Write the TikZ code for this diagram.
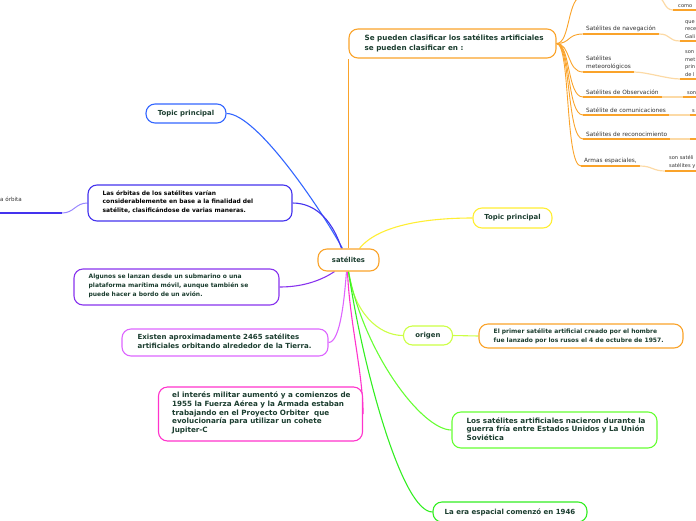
\documentclass[tikz,border=0pt]{standalone}
\usepackage{fontspec}
\setmainfont{DejaVu Sans}
\usetikzlibrary{backgrounds}
\definecolor{ora}{HTML}{FAA32A}
\definecolor{pale}{HTML}{FCDAA6}
\definecolor{txt}{HTML}{1B3D2F}
\definecolor{subtxt}{HTML}{333333}
\definecolor{blu}{HTML}{3366FF}
\definecolor{bpur}{HTML}{4433EE}
\definecolor{bpurl}{HTML}{9988FF}
\definecolor{pur}{HTML}{8833EE}
\definecolor{vio}{HTML}{DD66FF}
\definecolor{pnk}{HTML}{FF33CC}
\definecolor{yel}{HTML}{FFEE33}
\definecolor{lime}{HTML}{CCFF44}
\definecolor{grn}{HTML}{66FF33}
\definecolor{grnb}{HTML}{33EE22}
\begin{document}
\begin{tikzpicture}[x=1pt,y=-1pt,
  box/.style={draw, rounded corners=9pt, line width=1.1pt, fill=white, text=txt, inner sep=0pt,
    font=\bfseries\fontsize{6.9}{8}\selectfont},
  tx/.style={text=txt, align=left, inner sep=0pt, anchor=west},
  sub/.style={text=subtxt, align=left, anchor=south west, inner xsep=3pt, inner ysep=2pt,
    font=\fontsize{5.8}{7.8}\selectfont},
  subtwo/.style={sub, font=\fontsize{5.1}{7.8}\selectfont},
  con/.style={line width=1.1pt},
  uline/.style={ora, line width=1.6pt},
  oline/.style={ora, line width=0.9pt},
  pline/.style={pale, line width=1.2pt}]
\useasboundingbox (0,0) rectangle (696,520);
\clip (0,0) rectangle (696,520);

% central
\node[box, draw=ora, minimum width=61, minimum height=22, font=\bfseries\fontsize{6.8}{8}\selectfont] (cen) at (348.5,260) {satélites};

% orange main topic
\node[box, draw=ora, minimum width=207, minimum height=29] (clas) at (452.5,43.5) {};
\node[tx, font=\bfseries\fontsize{7.2}{10}\selectfont] (clasT) at ([xshift=16]clas.west) {Se pueden clasificar los satélites artificiales\\se pueden clasificar en :};

% topics
\node[box, draw=yel, minimum width=79, minimum height=20] (yelT) at (512.5,218) {Topic principal};
\node[box, draw=blu, minimum width=80, minimum height=19] (bluT) at (186,113.5) {Topic principal};

\node[box, draw=bpur, minimum width=204, minimum height=36] (orb) at (190,203) {};
\node[tx, text=black, font=\bfseries\fontsize{5.95}{8.5}\selectfont] (orbT) at ([xshift=15,yshift=1]orb.west) {Las órbitas de los satélites varían\\considerablemente en base a la finalidad del\\satélite, clasificándose de varias maneras.};

\node[box, draw=pur, minimum width=205, minimum height=36] (alg) at (176.5,287) {};
\node[tx, font=\bfseries\fontsize{6}{9}\selectfont] (algT) at ([xshift=15,yshift=1]alg.west) {Algunos se lanzan desde un submarino o una\\plataforma marítima móvil, aunque también se\\puede hacer a bordo de un avión.};

\node[box, draw=vio, minimum width=206, minimum height=27] (exi) at (225,342.5) {};
\node[tx, font=\bfseries\fontsize{7}{9}\selectfont] (exiT) at ([xshift=16,yshift=1]exi.west) {Existen aproximadamente 2465 satélites\\artificiales orbitando alrededor de la Tierra.};

\node[box, draw=pnk, minimum width=204, minimum height=54] (int) at (260.5,414) {};
\node[tx, font=\bfseries\fontsize{7.2}{8.7}\selectfont] (intT) at ([xshift=14,yshift=1]int.west) {el interés militar aumentó y a comienzos de\\1955 la Fuerza Aérea y la Armada estaban\\trabajando en el Proyecto Orbiter\ \ que\\evolucionaría para utilizar un cohete\\Jupiter-C};

\node[box, draw=lime, minimum width=49, minimum height=19] (ori) at (428,335.5) {origen};
\node[box, draw=ora, minimum width=204, minimum height=24] (pri) at (581,336) {};
\node[tx, font=\bfseries\fontsize{6}{9.5}\selectfont] (priT) at ([xshift=15]pri.west) {El primer satélite artificial creado por el hombre\\fue lanzado por los rusos el 4 de octubre de 1957.};

\node[box, draw=grn, minimum width=205, minimum height=36] (los) at (554.5,430) {};
\node[tx, font=\bfseries\fontsize{7.2}{8.3}\selectfont] (losT) at ([xshift=15,yshift=1]los.west) {Los satélites artificiales nacieron durante la\\guerra fría entre Estados Unidos y La Unión\\Soviética};

\node[box, draw=grnb, minimum width=154, minimum height=20, font=\bfseries\fontsize{7}{8}\selectfont] (era) at (510,512) {La era espacial comenzó en 1946};

% orange subtopics
\node[sub] (nav) at (583,34) {Satélites de navegación};
\node[sub] (met) at (583,72) {Satélites\\meteorológicos};
\node[sub] (obs) at (583,97) {Satélites de Observación};
\node[sub] (com) at (583,115) {Satélite de comunicaciones};
\node[sub] (rec) at (583,139) {Satélites de reconocimiento};
\node[sub] (arm) at (581,166) {Armas espaciales,};
\coordinate (topA) at (583,-4);
\coordinate (topB) at (655,-4);

\node[subtwo, inner xsep=5pt] (nav2) at (680,41) {que\\rece\\Gali};
\node[subtwo, inner xsep=5pt] (met2) at (680,79) {son\\met\\prin\\de l};
\node[subtwo, inner xsep=4pt] (obs2) at (683,97) {son};
\node[subtwo, inner xsep=2pt] (com2) at (690,115) {s};
\coordinate (rec2) at (690,139);
\node[subtwo, inner xsep=4pt] (arm2) at (665,171) {son satéli\\satélites y};
\node[subtwo, inner xsep=5pt] (top2) at (673,10) {como};

% left subtopic
\node[text=subtxt, font=\fontsize{5.6}{7}\selectfont, anchor=west, inner sep=0pt] (orb2) at (0,199) {a órbita};
\coordinate (orbE) at (62,213);
\coordinate (orbS) at (-2,213);

\begin{pgfonlayer}{background}
\draw[ora, con] (cen.north) -- (cen.north |- clas.south);
\draw[blu, con] (bluT.east) .. controls +(30,0) and +(-22,-40) .. ([xshift=-6]cen.north);
\draw[bpur, con] (orb.east) .. controls +(25,0) and +(-8,-25) .. ([xshift=-7]cen.north);
\draw[pur, con] (alg.east) .. controls +(25,0) and +(-12,8) .. ([xshift=-14]cen.south);
\draw[vio, con] (exi.east) .. controls +(12,0) and +(-2,25) .. ([xshift=-2]cen.south);
\draw[pnk, con] ([xshift=-1]cen.south) .. controls +(2,50) and +(0,-40) .. (int.east);
\draw[lime, con] (cen.south) .. controls +(5,40) and +(-25,0) .. (ori.west);
\draw[grn, con] (cen.south) .. controls +(15,80) and +(-30,0) .. (los.west);
\draw[grnb, con] (cen.south) .. controls +(15,100) and +(-30,0) .. (era.west);
\draw[yel, con] ([xshift=11]cen.north) .. controls +(20,-25) and +(-40,0) .. (yelT.west);
\draw[lime, con] (ori.east) -- (pri.west);

% orange branch
\foreach \n in {nav,met,obs,com,rec,arm}{
  \draw[oline] (clas.east) .. controls +(14,0) and +(-16,0) .. (\n.south west);
  \draw[uline] (\n.south west) -- (\n.south east);
}
\draw[oline] (clas.east) .. controls +(14,0) and +(-16,0) .. (topA);
\draw[uline] (topA) -- (topB);
\draw[pline] (topB) .. controls +(10,0) and +(-10,0) .. (top2.south west);
\draw[uline] (top2.south west) -- ++(40,0);
\draw[pline] (nav.south east) .. controls +(12,0) and +(-12,0) .. (nav2.south west);
\draw[uline] (nav2.south west) -- ++(40,0);
\draw[pline] (met.south east) .. controls +(12,0) and +(-12,0) .. (met2.south west);
\draw[uline] (met2.south west) -- ++(40,0);
\draw[pline] (obs.south east) -- (obs2.south west);
\draw[uline] (obs2.south west) -- ++(40,0);
\draw[pline] (com.south east) -- (com2.south west);
\draw[uline] (com2.south west) -- ++(40,0);
\draw[pline] (rec.south east) -- (rec2);
\draw[uline] (rec2) -- ++(40,0);
\draw[pline] (arm.south east) .. controls +(12,0) and +(-12,0) .. (arm2.south west);
\draw[uline] (arm2.south west) -- ++(40,0);

% left branch
\draw[bpurl, line width=1pt] (orb.west) .. controls +(-12,0) and +(12,0) .. (orbE);
\draw[bpur, line width=1.6pt] (orbE) -- (orbS);
\end{pgfonlayer}
\end{tikzpicture}
\end{document}
